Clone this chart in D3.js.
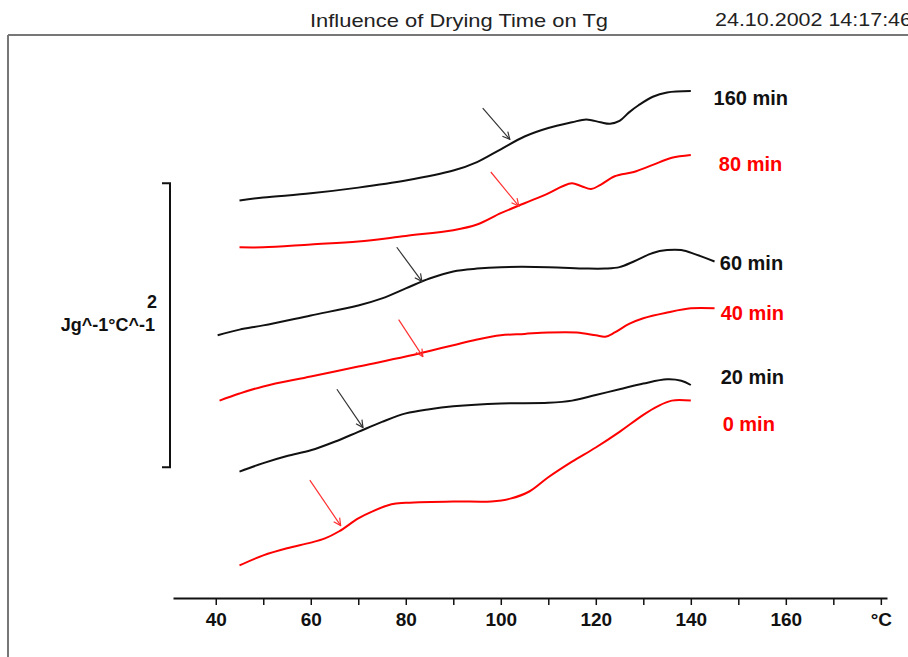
<!DOCTYPE html>
<html>
<head>
<meta charset="utf-8">
<script src="https://cdn.jsdelivr.net/npm/d3@7"></script>
<style>
  html, body { margin: 0; padding: 0; background: #fff; }
  svg { display: block; font-family: "Liberation Sans", Arial, sans-serif; }
</style>
</head>
<body>
<svg id="chart" width="908" height="657"></svg>
<script>
// ---- data ----
const seriesNames = ["160 min", "80 min", "60 min", "40 min", "20 min", "0 min"];
const seriesColors = ["#111111", "#ff0000", "#111111", "#ff0000", "#111111", "#ff0000"];

const temps160 = [45,50,60,70,80,90,95,100,105,110,115,118,121,123,125,127,129,132,135,140];
const vals160  = [2.80,2.82,2.85,2.89,2.94,3.01,3.07,3.16,3.25,3.31,3.35,3.37,3.35,3.34,3.36,3.42,3.47,3.53,3.56,3.57];

const temps80 = [45,50,60,70,80,90,95,100,105,110,113,115,117,119,121,124,128,132,136,140];
const vals80  = [2.47,2.47,2.49,2.51,2.55,2.59,2.63,2.71,2.78,2.85,2.90,2.92,2.90,2.88,2.91,2.97,3.00,3.05,3.10,3.12];

const temps60 = [40.4,45,50,60,70,75,80,85,90,95,100,110,118,122,125,128,132,135,138,141,145];
const vals60  = [1.85,1.89,1.92,1.99,2.06,2.11,2.18,2.25,2.30,2.32,2.33,2.33,2.32,2.32,2.33,2.37,2.43,2.45,2.45,2.42,2.37];

const temps40 = [40.8,45,50,60,70,80,85,90,95,100,105,110,116,120,122,124,127,130,135,140,145];
const vals40  = [1.39,1.44,1.49,1.56,1.63,1.70,1.74,1.78,1.82,1.85,1.86,1.87,1.87,1.85,1.84,1.87,1.93,1.97,2.01,2.04,2.04];

const temps20 = [45,50,55,60,65,70,75,80,85,90,100,110,115,120,125,130,135,138,140];
const vals20  = [0.89,0.95,1.00,1.04,1.10,1.17,1.24,1.30,1.33,1.35,1.37,1.375,1.39,1.43,1.47,1.51,1.54,1.53,1.50];

const temps0 = [45,50,55,60,63,66,70,73,77,80,90,98,102,106,110,115,120,125,130,133,136,140];
const vals0  = [0.23,0.30,0.35,0.39,0.42,0.47,0.56,0.61,0.66,0.67,0.68,0.68,0.70,0.75,0.85,0.96,1.06,1.17,1.29,1.35,1.39,1.39];

const seriesTemps = [temps160, temps80, temps60, temps40, temps20, temps0];
const seriesVals  = [vals160, vals80, vals60, vals40, vals20, vals0];

// Tg arrows: [tempFrom, valFrom, tempTo, valTo]
const tgArrows = [
  [96.2, 3.45, 101.9, 3.23],
  [97.9, 3.00, 103.8, 2.76],
  [78.1, 2.47, 83.4, 2.23],
  [78.5, 1.96, 83.6, 1.70],
  [65.5, 1.47, 71.0, 1.20],
  [59.8, 0.83, 66.3, 0.51]
];
// label anchors [temp, value]
const labelAnchors = [[144.8,3.472],[145.9,3.007],[146.1,2.310],[146.3,1.958],[146.3,1.507],[146.7,1.176]];

const xTicks = [40,50,60,70,80,90,100,110,120,130,140,150,160,170,180];
const xTickLabels = {40:"40",60:"60",80:"80",100:"100",120:"120",140:"140",160:"160",180:"°C"};
const scaleBarFrom = 0.92, scaleBarSize = 2;
const titleText = "Influence of Drying Time on Tg";
const dateText = "24.10.2002 14:17:46";
const unitText = "Jg^-1°C^-1";

// ---- drawing ----
const svg = d3.select("#chart");
const x = d3.scaleLinear().domain([31, 181.3]).range([173, 887]);
const y = d3.scaleLinear().domain([0, 4]).range([598, 30]);

// frame
svg.append("line").attr("x1", 8).attr("x2", 908).attr("y1", 35).attr("y2", 35)
  .attr("stroke", "#777").attr("stroke-width", 2);
svg.append("line").attr("x1", 8).attr("x2", 8).attr("y1", 35).attr("y2", 657)
  .attr("stroke", "#777").attr("stroke-width", 2);

// title and date
svg.append("text").attr("x", 310).attr("y", 27).attr("font-size", 19)
  .attr("textLength", 298).attr("lengthAdjust", "spacingAndGlyphs")
  .attr("fill", "#222").text(titleText);
svg.append("text").attr("x", 715).attr("y", 26).attr("font-size", 19)
  .attr("textLength", 197).attr("lengthAdjust", "spacingAndGlyphs")
  .attr("fill", "#222").text(dateText);

// x axis
const axis = d3.axisBottom(x).tickValues(xTicks)
  .tickSizeInner(7).tickSizeOuter(0).tickPadding(8)
  .tickFormat(d => xTickLabels[d] || "");
const gx = svg.append("g").attr("transform", `translate(0,${y(0)})`).call(axis);
gx.select(".domain").attr("stroke", "#111").attr("stroke-width", 2);
gx.selectAll(".tick line").attr("stroke", "#111").attr("stroke-width", 1.5);
gx.selectAll(".tick text").attr("font-size", 19).attr("font-weight", "bold")
  .attr("fill", "#111").attr("font-family", "'Liberation Sans', Arial, sans-serif");

// scale bar
const sbX = x(31) - 3;
const sb = svg.append("g").attr("stroke", "#111").attr("stroke-width", 2).attr("fill", "none");
sb.append("path").attr("d",
  `M${sbX - 8},${y(scaleBarFrom + scaleBarSize)} H${sbX} V${y(scaleBarFrom)} H${sbX - 8}`);
svg.append("text").attr("x", 157).attr("y", 308).attr("text-anchor", "end")
  .attr("font-size", 18).attr("font-weight", "bold").attr("fill", "#111").text(String(scaleBarSize));
svg.append("text").attr("x", 155).attr("y", 331).attr("text-anchor", "end")
  .attr("font-size", 18).attr("font-weight", "bold").attr("fill", "#111").text(unitText);

// arrow markers
const defs = svg.append("defs");
["dark", "red"].forEach((k, i) => {
  defs.append("marker").attr("id", "arr-" + k)
    .attr("viewBox", "0 0 10 10").attr("refX", 9).attr("refY", 5)
    .attr("markerWidth", 9).attr("markerHeight", 9)
    .attr("markerUnits", "userSpaceOnUse").attr("orient", "auto")
    .append("path").attr("d", "M1,1 L9,5 L1,9").attr("fill", "none")
    .attr("stroke", i ? "#ff3030" : "#333").attr("stroke-width", 1.3);
});

// curves
const line = d3.line().x(d => x(d[0])).y(d => y(d[1])).curve(d3.curveCatmullRom.alpha(0.5));
seriesNames.forEach((name, i) => {
  const pts = seriesTemps[i].map((t, j) => [t, seriesVals[i][j]]);
  svg.append("path").datum(pts).attr("d", line)
    .attr("fill", "none").attr("stroke", seriesColors[i]).attr("stroke-width", 2)
    .attr("stroke-linejoin", "round");
  const a = tgArrows[i];
  const red = seriesColors[i] !== "#111111";
  svg.append("line").attr("x1", x(a[0])).attr("y1", y(a[1]))
    .attr("x2", x(a[2])).attr("y2", y(a[3]))
    .attr("stroke", red ? "#ff3030" : "#333").attr("stroke-width", 1.2)
    .attr("marker-end", `url(#arr-${red ? "red" : "dark"})`);
  svg.append("text").attr("x", x(labelAnchors[i][0])).attr("y", y(labelAnchors[i][1]))
    .attr("font-size", 20).attr("font-weight", "bold").attr("fill", seriesColors[i])
    .text(name);
});
</script>
</body>
</html>
